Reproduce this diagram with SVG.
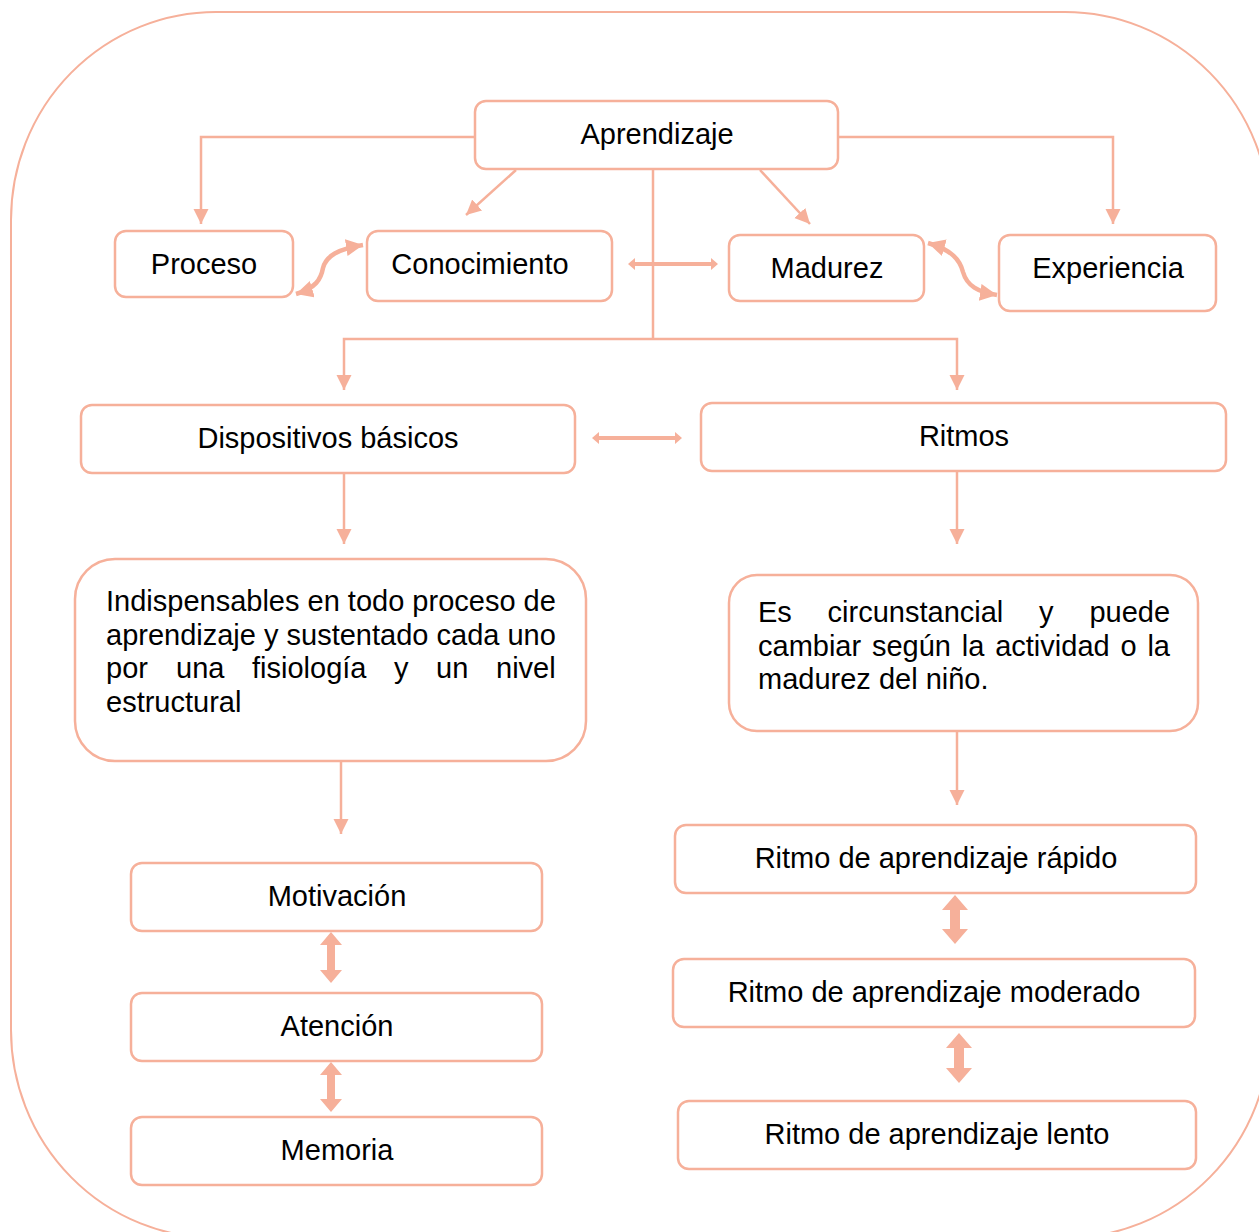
<svg xmlns="http://www.w3.org/2000/svg" width="1259" height="1232" viewBox="0 0 1259 1232">
<style>
.box{fill:#fff;stroke:#F6B09A;stroke-width:2.5}
.frame{fill:none;stroke:#F6B09A;stroke-width:2}
.t{font-family:"Liberation Sans",Arial,sans-serif;font-size:29px;fill:#000}
.c{text-anchor:middle}
.ln{fill:none;stroke:#F6B09A;stroke-width:2.5}
.cv{fill:none;stroke:#F6B09A;stroke-width:4.5}
.blk{fill:#F6B09A;stroke:none}
</style>
<defs>
<marker id="ah" markerUnits="userSpaceOnUse" markerWidth="16" markerHeight="16" refX="15" refY="7.5" orient="auto">
<path d="M0,0 L15,7.5 L0,15 z" fill="#F6B09A"/>
</marker>
<marker id="ahc" markerUnits="userSpaceOnUse" markerWidth="20" markerHeight="20" refX="17" refY="8.5" orient="auto-start-reverse">
<path d="M0,0 L17,8.5 L0,17 z" fill="#F6B09A"/>
</marker>
</defs>
<rect class="frame" x="11" y="12" width="1259" height="1226" rx="205" ry="208"/>
<g id="connectors">
<path class="ln" d="M475,137 H201 V224" marker-end="url(#ah)"/>
<path class="ln" d="M838,137 H1113 V224" marker-end="url(#ah)"/>
<path class="ln" d="M516,170 L466,215" marker-end="url(#ah)"/>
<path class="ln" d="M760,170 L810,224" marker-end="url(#ah)"/>
<path class="ln" d="M653,170 V339"/>
<path class="ln" d="M653,339 H344 V390" marker-end="url(#ah)"/>
<path class="ln" d="M653,339 H957 V390" marker-end="url(#ah)"/>
<path class="ln" d="M344,473 V544" marker-end="url(#ah)"/>
<path class="ln" d="M957,471 V544" marker-end="url(#ah)"/>
<path class="ln" d="M341,761 V834" marker-end="url(#ah)"/>
<path class="ln" d="M957,731 V805" marker-end="url(#ah)"/>
<path class="cv" d="M296,294 C316,288 321,279 323,268 C326,256 338,249 363,245" marker-start="url(#ahc)" marker-end="url(#ahc)"/>
<path class="cv" d="M928,243 C952,250 960,260 963,272 C967,286 978,292 997,295" marker-start="url(#ahc)" marker-end="url(#ahc)"/>
<polygon class="blk" points="628,264 635,258 635,262 711,262 711,258 718,264 711,270 711,266 635,266 635,270"/>
<polygon class="blk" points="592,438 599,432 599,436 675,436 675,432 682,438 675,444 675,440 599,440 599,444"/>
<polygon class="blk" points="331,932 342,945 335,945 335,970 342,970 331,983 320,970 327,970 327,945 320,945"/>
<polygon class="blk" points="331,1062 342,1075 335,1075 335,1099 342,1099 331,1112 320,1099 327,1099 327,1075 320,1075"/>
<polygon class="blk" points="955,895 968,910 960,910 960,929 968,929 955,944 942,929 950,929 950,910 942,910"/>
<polygon class="blk" points="959,1033 972,1048 964,1048 964,1068 972,1068 959,1083 946,1068 954,1068 954,1048 946,1048"/>
</g>
<g id="n-aprendizaje"><rect class="box" x="475" y="101" width="363" height="68" rx="11"/><text class="t c" x="657" y="144">Aprendizaje</text></g>
<g id="n-proceso"><rect class="box" x="115" y="231" width="178" height="66" rx="11"/><text class="t c" x="204" y="274">Proceso</text></g>
<g id="n-conocimiento"><rect class="box" x="367" y="231" width="245" height="70" rx="11"/><text class="t c" x="480" y="274">Conocimiento</text></g>
<g id="n-madurez"><rect class="box" x="729" y="235" width="195" height="66" rx="11"/><text class="t c" x="827" y="278">Madurez</text></g>
<g id="n-experiencia"><rect class="box" x="999" y="235" width="217" height="76" rx="11"/><text class="t c" x="1108" y="278">Experiencia</text></g>
<g id="n-dispositivos"><rect class="box" x="81" y="405" width="494" height="68" rx="11"/><text class="t c" x="328" y="448">Dispositivos básicos</text></g>
<g id="n-ritmos"><rect class="box" x="701" y="403" width="525" height="68" rx="11"/><text class="t c" x="964" y="446">Ritmos</text></g>
<g id="n-indispensables"><rect class="box" x="75" y="559" width="511" height="202" rx="40"/>
<text class="t" x="106" y="611">Indispensables en todo proceso de</text>
<text class="t" x="106" y="645">aprendizaje y sustentado cada uno</text>
<text class="t" y="678"><tspan x="106">por</tspan><tspan x="176">una</tspan><tspan x="252">fisiología</tspan><tspan x="394">y</tspan><tspan x="436">un</tspan><tspan x="496">nivel</tspan></text>
<text class="t" x="106" y="712">estructural</text>
</g>
<g id="n-circunstancial"><rect class="box" x="729" y="575" width="469" height="156" rx="28"/>
<text class="t" y="622"><tspan x="758">Es</tspan><tspan x="827.6">circunstancial</tspan><tspan x="1039">y</tspan><tspan x="1089.4">puede</tspan></text>
<text class="t" y="656"><tspan x="758">cambiar</tspan><tspan x="871.9">según</tspan><tspan x="961.8">la</tspan><tspan x="995.2">actividad</tspan><tspan x="1120.5">o</tspan><tspan x="1147.4">la</tspan></text>
<text class="t" x="758" y="689">madurez del niño.</text>
</g>
<g id="n-rapido"><rect class="box" x="675" y="825" width="521" height="68" rx="11"/><text class="t c" x="936" y="868">Ritmo de aprendizaje rápido</text></g>
<g id="n-moderado"><rect class="box" x="673" y="959" width="522" height="68" rx="11"/><text class="t c" x="934" y="1002">Ritmo de aprendizaje moderado</text></g>
<g id="n-lento"><rect class="box" x="678" y="1101" width="518" height="68" rx="11"/><text class="t c" x="937" y="1144">Ritmo de aprendizaje lento</text></g>
<g id="n-motivacion"><rect class="box" x="131" y="863" width="411" height="68" rx="11"/><text class="t c" x="337" y="906">Motivación</text></g>
<g id="n-atencion"><rect class="box" x="131" y="993" width="411" height="68" rx="11"/><text class="t c" x="337" y="1036">Atención</text></g>
<g id="n-memoria"><rect class="box" x="131" y="1117" width="411" height="68" rx="11"/><text class="t c" x="337" y="1160">Memoria</text></g>
</svg>
